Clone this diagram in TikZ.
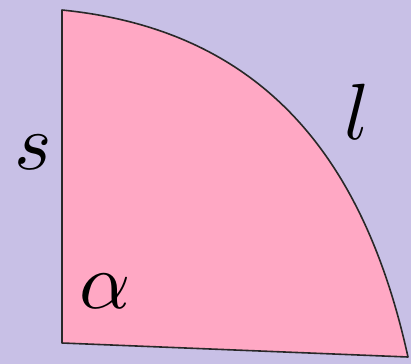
\documentclass[tikz,border=0pt]{standalone}
\definecolor{bgc}{RGB}{200,192,230}
\definecolor{sectorc}{RGB}{255,168,196}
\definecolor{edgec}{RGB}{40,40,40}
\tikzset{
  lbl/.style={inner sep=0pt, scale=8.0, transform shape},
  sectorshape/.style={fill=sectorc, draw=edgec, line width=1.6bp, line join=round}
}
\begin{document}
\begin{tikzpicture}[x=1bp,y=-1bp]
\fill[bgc] (0,0) rectangle (411,364);
\useasboundingbox (0,0) rectangle (411,364);
\coordinate (O) at (62,343);
\coordinate (T) at (62,10);
\coordinate (R) at (408,357);
\draw[sectorshape] (O) -- (T) .. controls (262,30) and (364,157) .. (R) -- cycle;
\node[lbl] (s) at (33,152) {$s$};
\node[lbl] (l) at (357,112) {$l$};
\node[lbl] (a) at (105,291) {$\alpha$};
\end{tikzpicture}
\end{document}
